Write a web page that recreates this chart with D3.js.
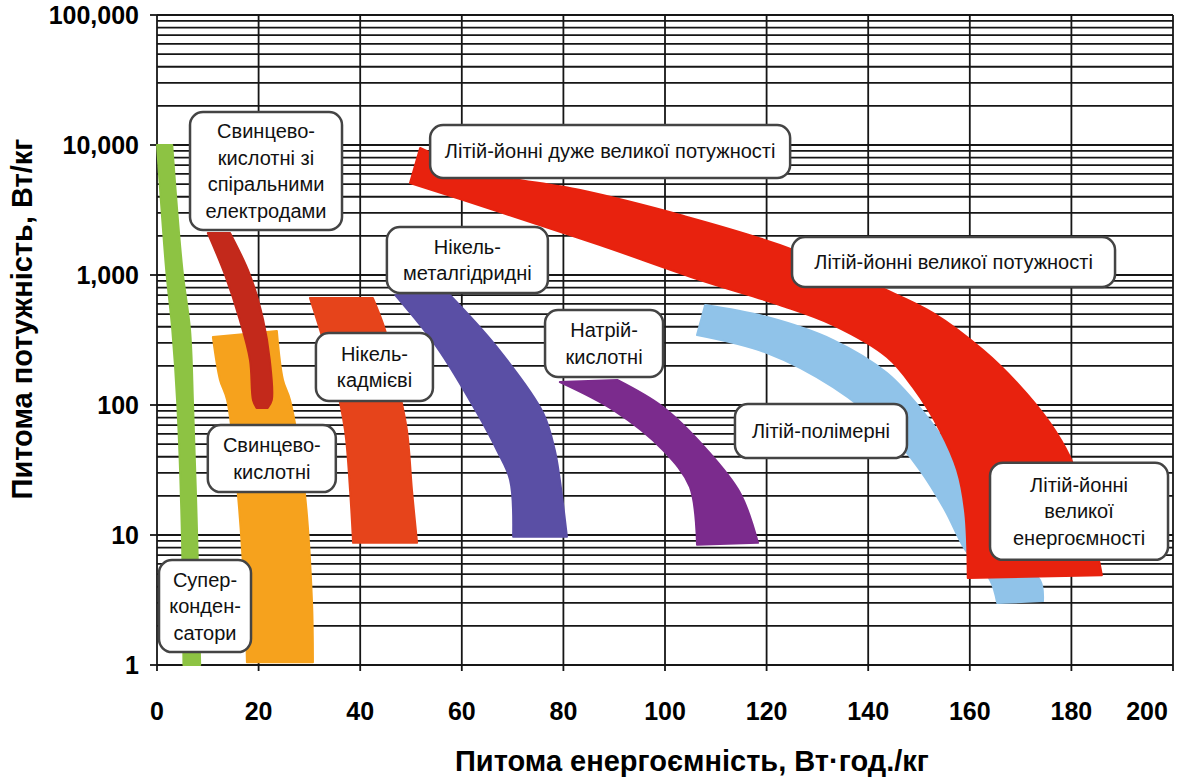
<!DOCTYPE html>
<html>
<head>
<meta charset="utf-8">
<script src="https://cdn.jsdelivr.net/npm/d3@7"></script>
<style>
  body { margin: 0; background: #fff; }
  text { font-family: "Liberation Sans", Arial, sans-serif; }
</style>
</head>
<body>
<div class="canva"></div>
<script>
// осі
const energyTicks = [0, 20, 40, 60, 80, 100, 120, 140, 160, 180, 200];
const powerTicks = [1, 10, 100, 1000, 10000, 100000];
const powerTickLabels = ["1", "10", "100", "1,000", "10,000", "100,000"];

// межі смуг: [Вт·год/кг, Вт/кг]
const superCapA = [[0, 10000], [1.8, 1100], [3, 380], [4, 100], [4.9, 10], [5.2, 1]];
const superCapB = [[3, 10000], [5, 1100], [6.5, 380], [7.1, 100], [7.9, 10], [8.5, 1]];

const leadAcidA = [[11, 333], [12.4, 156], [13.8, 109], [15.9, 21], [17.3, 3.16], [17.7, 1.05]];
const leadAcidB = [[23.6, 371], [24.8, 156], [26.2, 109], [29.1, 21], [30.5, 3.16], [30.7, 1.05]];

const spiralA = [[10, 2100], [13.4, 1000], [16.3, 451], [18.3, 222], [18.9, 109], [19.6, 95]];
const spiralB = [[14.4, 2100], [18.3, 1000], [20.9, 451], [22.2, 222], [22.6, 109], [21.8, 95]];

const niCdA = [[30.1, 665], [32.1, 378], [35, 156], [37, 64], [38, 22], [38.6, 8.7]];
const niCdB = [[42.5, 665], [44.9, 378], [47.2, 156], [49.2, 64], [50.2, 22], [51.2, 8.7]];

const niMhA = [[46.9, 700], [55.1, 279], [63, 87], [66.9, 45], [69.5, 26.5], [70.1, 9.7]];
const niMhB = [[57.7, 700], [66.9, 279], [76, 87], [78.3, 45], [79.3, 26.5], [80.7, 9.7]];

const naSA = [[79.3, 150], [89.8, 91.6], [99.6, 45], [104.9, 23.4], [106.3, 8.4]];
const naSB = [[90.6, 156], [99.6, 96.5], [108.3, 45], [114.8, 21], [118.3, 8.7]];

const liPolyA = [[106.3, 345], [120.1, 251], [133.1, 137], [143.7, 64], [150.2, 31.6], [155.1, 15.6], [159.1, 7.7], [164, 4.5], [165.4, 3]];
const liPolyB = [[107.9, 588], [120.1, 475], [133.1, 316], [143.7, 176], [151.6, 81], [158.1, 34.5], [163, 15.6], [166.9, 7.7], [173.8, 4.5], [174.4, 3.1]];

const liIonA = [[49.8, 5100], [67.5, 3050], [87.2, 1700], [106.9, 915], [122.6, 588], [133.1, 412], [143.7, 234], [148.8, 137], [154.1, 64], [157.5, 31.6], [159.1, 14.8], [159.6, 4.67]];
const liIonB = [[51.8, 9480], [63.6, 6200], [83.3, 4500], [103, 2895], [122.6, 1700], [142.7, 794], [152.8, 510], [162.6, 265], [169.3, 148], [175.8, 72.7], [179.7, 40], [182.7, 18.6], [184.6, 9.2], [186, 4.9]];

const bandEdges = [
  [leadAcidA, leadAcidB], [spiralA, spiralB], [superCapA, superCapB],
  [niCdA, niCdB], [niMhA, niMhB], [naSA, naSB],
  [liPolyA, liPolyB], [liIonA, liIonB]
];
const bandColors = ["#f6a21d", "#c3291b", "#8dc343", "#e6441b", "#5a4fa5", "#7b2b8d", "#90c3e9", "#e8220e"];

// підписи
const labelTexts = [
  "Свинцево-\nкислотні зі\nспіральними\nелектродами",
  "Літій-йонні дуже великої потужності",
  "Нікель-\nметалгідридні",
  "Нікель-\nкадмієві",
  "Натрій-\nкислотні",
  "Літій-йонні великої потужності",
  "Літій-полімерні",
  "Літій-йонні\nвеликої\nенергоємності",
  "Свинцево-\nкислотні",
  "Супер-\nконден-\nсатори"
];
const labelAt = [[21.46, 6310], [89.2, 8913], [61.1, 1304], [42.8, 196], [88, 297],
                 [156.8, 1259], [130.7, 63], [181.5, 15.2], [22.6, 38.7], [9.45, 2.84]];
const labelBox = [[152, 118], [360, 53], [161, 66], [117, 68], [118, 67],
                  [323, 50], [172, 54], [178, 97], [128, 67], [92, 92]];

const svg = d3.select(".canva").append("svg")
    .attr("width", 1178)
    .attr("height", 780);

const margin = {top: 15, right: 5, bottom: 115, left: 157};
const graphWidth = 1178 - margin.left - margin.right;
const graphHeight = 780 - margin.top - margin.bottom;

const graph = svg.append("g")
    .attr("transform", `translate(${margin.left}, ${margin.top})`);

const x = d3.scaleLinear().domain([0, 200]).range([0, graphWidth]);
const y = d3.scaleLog().domain([1, 100000]).range([graphHeight, 0]);

// сітка
const minor = [];
powerTicks.slice(0, -1).forEach(p => { for (let k = 1; k < 10; k++) minor.push(p * k); });
minor.push(100000);

graph.append("g").selectAll("line").data(minor).enter().append("line")
    .attr("x1", 0).attr("x2", graphWidth)
    .attr("y1", d => y(d)).attr("y2", d => y(d))
    .attr("stroke", "#161616").attr("stroke-width", 1.8);

graph.append("g").selectAll("line").data(energyTicks).enter().append("line")
    .attr("x1", d => x(d)).attr("x2", d => x(d))
    .attr("y1", 0).attr("y2", graphHeight + 6)
    .attr("stroke", "#161616").attr("stroke-width", 1.8);

graph.append("g").selectAll("line").data(powerTicks).enter().append("line")
    .attr("x1", -7).attr("x2", 0)
    .attr("y1", d => y(d)).attr("y2", d => y(d))
    .attr("stroke", "#161616").attr("stroke-width", 1.8);

// смуги
const edge = d3.line().x(d => x(d[0])).y(d => y(d[1])).curve(d3.curveCatmullRom);
const bandPath = ([a, b]) => edge(a) + "L" + edge(b.slice().reverse()).slice(1) + "Z";

graph.append("g").selectAll("path").data(bandEdges).enter().append("path")
    .attr("d", bandPath)
    .attr("fill", (d, i) => bandColors[i])
    .attr("stroke", (d, i) => bandColors[i])
    .attr("stroke-width", 2)
    .attr("stroke-linejoin", "round");

// підписи осей
svg.append("g").selectAll("text").data(powerTicks).enter().append("text")
    .attr("x", margin.left - 18)
    .attr("y", d => margin.top + y(d) + 9)
    .attr("text-anchor", "end")
    .attr("font-size", 25).attr("font-weight", "bold")
    .text((d, i) => powerTickLabels[i]);

svg.append("g").selectAll("text").data(energyTicks).enter().append("text")
    .attr("x", (d, i) => margin.left + x(d) - (i === energyTicks.length - 1 ? 26 : 0))
    .attr("y", margin.top + graphHeight + 55)
    .attr("text-anchor", "middle")
    .attr("font-size", 25).attr("font-weight", "bold")
    .text(d => d);

svg.append("text")
    .attr("x", 455).attr("y", 771)
    .attr("font-size", 29).attr("font-weight", "bold")
    .text("Питома енергоємність, Вт·год./кг");

svg.append("text")
    .attr("transform", "translate(32, 319) rotate(-90)")
    .attr("text-anchor", "middle")
    .attr("font-size", 29).attr("font-weight", "bold")
    .text("Питома потужність, Вт/кг");

// рамки з підписами
const labels = graph.append("g").selectAll("g").data(labelTexts).enter().append("g")
    .attr("transform", (d, i) => `translate(${x(labelAt[i][0])}, ${y(labelAt[i][1])})`);

labels.append("rect")
    .attr("x", (d, i) => -labelBox[i][0] / 2)
    .attr("y", (d, i) => -labelBox[i][1] / 2)
    .attr("width", (d, i) => labelBox[i][0])
    .attr("height", (d, i) => labelBox[i][1])
    .attr("rx", 13)
    .attr("fill", "#fff")
    .attr("stroke", "#444")
    .attr("stroke-width", 2.5);

labels.each(function (d) {
    const lines = d.split("\n");
    const lh = 26.5;
    d3.select(this).selectAll("text").data(lines).enter().append("text")
        .attr("x", 0)
        .attr("y", (l, j) => (j - (lines.length - 1) / 2) * lh + 7)
        .attr("text-anchor", "middle")
        .attr("font-size", 20)
        .attr("fill", "#111")
        .text(l => l);
});
</script>
</body>
</html>
